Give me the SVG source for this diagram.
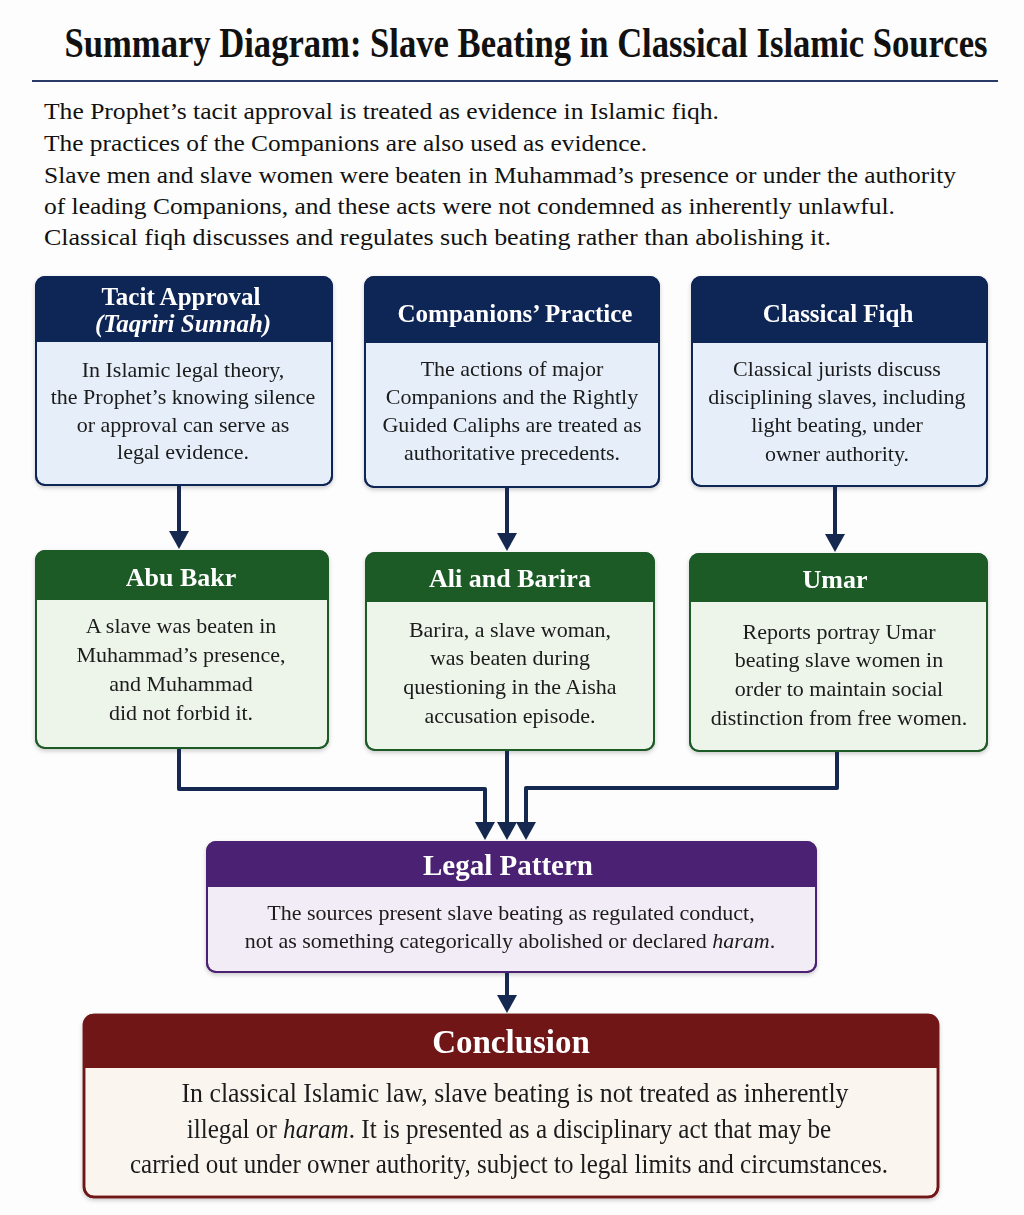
<svg xmlns="http://www.w3.org/2000/svg" width="1024" height="1215" viewBox="0 0 1024 1215">
<defs>
<style>
.title{font-family:"Liberation Serif","Times New Roman",serif;font-weight:bold;font-size:43px;fill:#111;text-anchor:middle}
.intro{font-family:"Liberation Serif","Times New Roman",serif;font-size:24px;fill:#111}
.hd{font-family:"Liberation Serif","Times New Roman",serif;font-weight:bold;fill:#fff;text-anchor:middle}
.bd{font-family:"Liberation Serif","Times New Roman",serif;font-size:22px;fill:#1a1a1a;text-anchor:middle}
.cb{font-family:"Liberation Serif","Times New Roman",serif;font-size:27px;fill:#1a1a1a;text-anchor:middle}
.conn{fill:none;stroke:#142850;stroke-width:4;stroke-linejoin:round}
.navyB{fill:#e5eef9;stroke:#102556;stroke-width:2}
.navyH{fill:#102556}
.greenB{fill:#edf5ea;stroke:#1d5a26;stroke-width:2}
.greenH{fill:#1d5a26}
.purpB{fill:#f1ecf6;stroke:#4b2373;stroke-width:2}
.purpH{fill:#4b2373}
.redB{fill:#fbf5f0;stroke:#6f1418;stroke-width:2.5}
.redH{fill:#6f1418}
</style>
<marker id="ah" markerUnits="userSpaceOnUse" viewBox="0 0 18 20" refX="2" refY="10" markerWidth="18" markerHeight="20" orient="auto">
<path d="M0,0 L18,10 L0,20 Z" fill="#142850"/>
</marker>
<filter id="sh" x="-5%" y="-5%" width="110%" height="115%">
<feDropShadow dx="0" dy="2" stdDeviation="2" flood-color="#000" flood-opacity="0.2"/>
</filter>
</defs>
<rect width="1024" height="1215" fill="#fdfdfd"/>

<g id="title">
<text class="title" transform="translate(526,57) scale(0.805,1)" x="0" y="0">Summary Diagram: Slave Beating in Classical Islamic Sources</text>
<line x1="32" y1="81" x2="998" y2="81" stroke="#2b3a66" stroke-width="2"/>
</g>

<g id="intro">
<text class="intro" x="44" y="119" textLength="675" lengthAdjust="spacingAndGlyphs">The Prophet’s tacit approval is treated as evidence in Islamic fiqh.</text>
<text class="intro" x="44" y="151" textLength="603" lengthAdjust="spacingAndGlyphs">The practices of the Companions are also used as evidence.</text>
<text class="intro" x="44" y="183" textLength="912" lengthAdjust="spacingAndGlyphs">Slave men and slave women were beaten in Muhammad’s presence or under the authority</text>
<text class="intro" x="44" y="214" textLength="851" lengthAdjust="spacingAndGlyphs">of leading Companions, and these acts were not condemned as inherently unlawful.</text>
<text class="intro" x="44" y="245" textLength="787" lengthAdjust="spacingAndGlyphs">Classical fiqh discusses and regulates such beating rather than abolishing it.</text>
</g>

<g id="tacit-approval" filter="url(#sh)">
<rect class="navyB" x="36" y="277" width="296" height="208" rx="9"/>
<path class="navyH" d="M36,342 V286 Q36,277 45,277 H323 Q332,277 332,286 V342 Z"/>
<rect x="36" y="277" width="296" height="208" rx="9" fill="none" stroke="#102556" stroke-width="2"/>
<text class="hd" x="181" y="305" font-size="25">Tacit Approval</text>
<text class="hd" x="183" y="332" font-size="25" font-style="italic">(Taqriri Sunnah)</text>
<text class="bd" x="183" y="377">In Islamic legal theory,</text>
<text class="bd" x="183" y="404">the Prophet’s knowing silence</text>
<text class="bd" x="183" y="432">or approval can serve as</text>
<text class="bd" x="183" y="459">legal evidence.</text>
</g>

<g id="companions-practice" filter="url(#sh)">
<rect class="navyB" x="365" y="277" width="294" height="210" rx="9"/>
<path class="navyH" d="M365,343 V286 Q365,277 374,277 H650 Q659,277 659,286 V343 Z"/>
<rect x="365" y="277" width="294" height="210" rx="9" fill="none" stroke="#102556" stroke-width="2"/>
<text class="hd" x="515" y="322" font-size="25">Companions’ Practice</text>
<text class="bd" x="512" y="376">The actions of major</text>
<text class="bd" x="512" y="404">Companions and the Rightly</text>
<text class="bd" x="512" y="432">Guided Caliphs are treated as</text>
<text class="bd" x="512" y="460">authoritative precedents.</text>
</g>

<g id="classical-fiqh" filter="url(#sh)">
<rect class="navyB" x="692" y="277" width="295" height="209" rx="9"/>
<path class="navyH" d="M692,343 V286 Q692,277 701,277 H978 Q987,277 987,286 V343 Z"/>
<rect x="692" y="277" width="295" height="209" rx="9" fill="none" stroke="#102556" stroke-width="2"/>
<text class="hd" x="838" y="322" font-size="25">Classical Fiqh</text>
<text class="bd" x="837" y="376">Classical jurists discuss</text>
<text class="bd" x="837" y="404">disciplining slaves, including</text>
<text class="bd" x="837" y="432">light beating, under</text>
<text class="bd" x="837" y="461">owner authority.</text>
</g>

<g id="abu-bakr" filter="url(#sh)">
<rect class="greenB" x="36" y="551" width="292" height="197" rx="9"/>
<path class="greenH" d="M36,600 V560 Q36,551 45,551 H319 Q328,551 328,560 V600 Z"/>
<rect x="36" y="551" width="292" height="197" rx="9" fill="none" stroke="#1d5a26" stroke-width="2"/>
<text class="hd" x="181" y="586" font-size="26">Abu Bakr</text>
<text class="bd" x="181" y="633">A slave was beaten in</text>
<text class="bd" x="181" y="662">Muhammad’s presence,</text>
<text class="bd" x="181" y="691">and Muhammad</text>
<text class="bd" x="181" y="720">did not forbid it.</text>
</g>

<g id="ali-and-barira" filter="url(#sh)">
<rect class="greenB" x="366" y="553" width="288" height="197" rx="9"/>
<path class="greenH" d="M366,602 V562 Q366,553 375,553 H645 Q654,553 654,562 V602 Z"/>
<rect x="366" y="553" width="288" height="197" rx="9" fill="none" stroke="#1d5a26" stroke-width="2"/>
<text class="hd" x="510" y="587" font-size="26">Ali and Barira</text>
<text class="bd" x="510" y="637">Barira, a slave woman,</text>
<text class="bd" x="510" y="665">was beaten during</text>
<text class="bd" x="510" y="694">questioning in the Aisha</text>
<text class="bd" x="510" y="723">accusation episode.</text>
</g>

<g id="umar" filter="url(#sh)">
<rect class="greenB" x="690" y="554" width="297" height="197" rx="9"/>
<path class="greenH" d="M690,602 V563 Q690,554 699,554 H978 Q987,554 987,563 V602 Z"/>
<rect x="690" y="554" width="297" height="197" rx="9" fill="none" stroke="#1d5a26" stroke-width="2"/>
<text class="hd" x="835" y="588" font-size="26">Umar</text>
<text class="bd" x="839" y="639">Reports portray Umar</text>
<text class="bd" x="839" y="667">beating slave women in</text>
<text class="bd" x="839" y="696">order to maintain social</text>
<text class="bd" x="839" y="725">distinction from free women.</text>
</g>

<g id="legal-pattern" filter="url(#sh)">
<rect class="purpB" x="207" y="842" width="609" height="130" rx="9"/>
<path class="purpH" d="M207,887 V851 Q207,842 216,842 H807 Q816,842 816,851 V887 Z"/>
<rect x="207" y="842" width="609" height="130" rx="9" fill="none" stroke="#4b2373" stroke-width="2"/>
<text class="hd" x="508" y="875" font-size="29">Legal Pattern</text>
<text class="bd" x="511" y="920">The sources present slave beating as regulated conduct,</text>
<text class="bd" x="510" y="948">not as something categorically abolished or declared <tspan font-style="italic">haram</tspan>.</text>
</g>

<g id="conclusion" filter="url(#sh)">
<rect class="redB" x="84" y="1015" width="854" height="182" rx="10"/>
<path class="redH" d="M84,1068 V1025 Q84,1015 94,1015 H928 Q938,1015 938,1025 V1068 Z"/>
<rect x="84" y="1015" width="854" height="182" rx="10" fill="none" stroke="#6f1418" stroke-width="2.5"/>
<text class="hd" x="511" y="1053" font-size="33">Conclusion</text>
<text class="cb" x="515" y="1102" textLength="667" lengthAdjust="spacingAndGlyphs">In classical Islamic law, slave beating is not treated as inherently</text>
<text class="cb" transform="translate(509,1138) scale(0.932,1)" x="0" y="0">illegal or <tspan font-style="italic">haram</tspan>. It is presented as a disciplinary act that may be</text>
<text class="cb" x="509" y="1173" textLength="758" lengthAdjust="spacingAndGlyphs">carried out under owner authority, subject to legal limits and circumstances.</text>
</g>

<g id="connectors">
<path class="conn" d="M179,486 V533" marker-end="url(#ah)"/>
<path class="conn" d="M507,488 V535" marker-end="url(#ah)"/>
<path class="conn" d="M835,487 V536" marker-end="url(#ah)"/>
<path class="conn" d="M179,749 V789 H485 V824" marker-end="url(#ah)"/>
<path class="conn" d="M507,751 V824" marker-end="url(#ah)"/>
<path class="conn" d="M837,752 V788 H526 V824" marker-end="url(#ah)"/>
<path class="conn" d="M507,973 V997" marker-end="url(#ah)"/>
</g>
</svg>
